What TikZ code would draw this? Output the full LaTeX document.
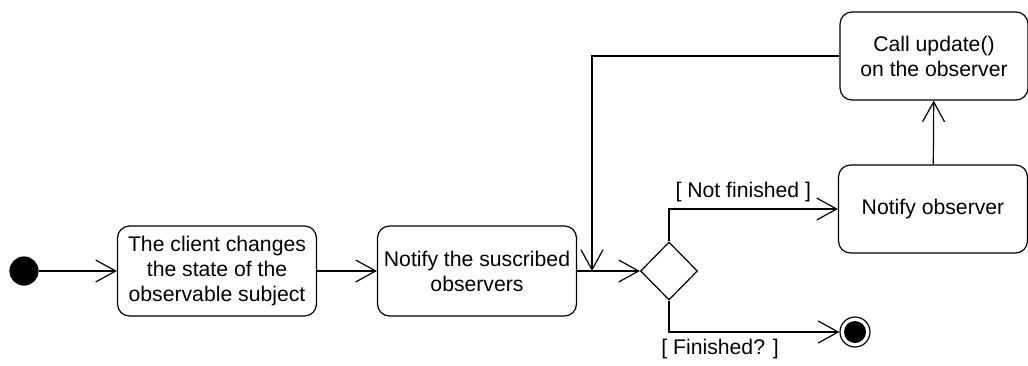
\documentclass[tikz,border=0pt]{standalone}
\usepackage{fontspec}
\setmainfont{Liberation Sans}
\usetikzlibrary{arrows.meta, shapes.geometric}

\tikzset{
    activity/.style={draw, rounded corners=6pt, align=center, minimum width=99.5pt, minimum height=45pt, inner sep=1pt},
    flow/.style={-{Straight Barb[length=10pt, width=11pt]}},
}

\begin{document}
\begin{tikzpicture}[x=0.5pt, y=-0.5pt, line width=0.6pt, font=\fontsize{10.6pt}{12.5pt}\selectfont]
        \useasboundingbox (0, 0) rectangle (1028, 365);

        \node[draw, circle, fill, minimum size=14pt, inner sep=0] (start) at (24, 271) {};
        \node[activity] (client) at (217, 271) {The client changes\\the state of the\\observable subject};
        \node[activity] (notify_all) at (477, 271) {Notify the suscribed\\observers};
        \node[draw, diamond, aspect=1, minimum width=28.5pt, minimum height=29pt, inner sep=0] (decide) at (669, 271) {};
        \node[activity, minimum width=94.5pt, minimum height=44pt] (notify_one) at (933, 209) {Notify observer};
        \node[activity, minimum width=94pt, minimum height=44pt] (call_update) at (934, 56) {Call update()\\on the observer};
        \node[draw, circle, minimum size=15pt, inner sep=0] (stop) at (855, 332) {};
        \fill (stop) circle (5.5pt);
        \coordinate (merge) at (592, 271);

        \draw[flow] (start) -- (client);
        \draw[flow] (client) -- (notify_all);
        \draw[flow] (notify_all) -- (decide);
        \draw[flow] (decide.north) |- node[pos=0.72, above] (not_done) {[ Not finished ]} (notify_one.west);
        \draw[flow] (decide.south) |- node[pos=0.65, below] (done) {[ Finished? ]} (stop.west);
        \draw[flow] (notify_one) -- (call_update);
        \draw[flow] (call_update.west) -| (merge);
    \end{tikzpicture}
\end{document}
